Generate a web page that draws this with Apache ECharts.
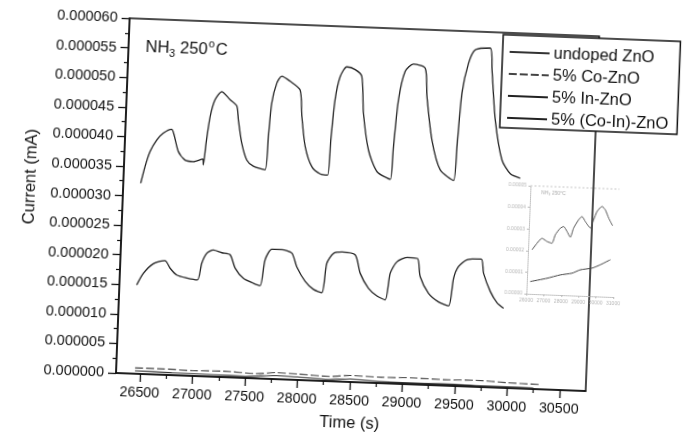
<!DOCTYPE html>
<html><head><meta charset="utf-8">
<script src="https://cdn.jsdelivr.net/npm/echarts@6/dist/echarts.min.js"></script>
<style>
html,body{margin:0;padding:0;background:#fff;overflow:hidden}
#chart{width:688px;height:438px;transform:rotate(2.2deg);transform-origin:116px 373px;}
</style></head><body><div id="chart"></div>
<script>
// ---- data ----
const seriesNames = ['undoped ZnO', '5% Co-ZnO', '5% In-ZnO', '5% (Co-In)-ZnO'];
const xTickValues = [26500, 27000, 27500, 28000, 28500, 29000, 29500, 30000, 30500];
const xMinorTickValues = [26750, 27250, 27750, 28250, 28750, 29250, 29750, 30250];

const undopedTime = [26450, 26800, 27200, 27500, 27800, 28000, 28300, 28500, 28800, 29200, 29500, 29800, 30000, 30250];
const undopedCurrent = [0.5e-6, 0.4e-6, 0.35e-6, 0.3e-6, 0.6e-6, 0.5e-6, 0.3e-6, 0.5e-6, 0.3e-6, 0.25e-6, 0.3e-6, 0.2e-6, 0.2e-6, 0.15e-6];

const coTime = [26450, 26700, 27000, 27300, 27600, 27800, 28000, 28300, 28500, 28800, 29100, 29400, 29700, 30000, 30300];
const coCurrent = [1.0e-6, 1.0e-6, 0.9e-6, 1.0e-6, 0.8e-6, 1.1e-6, 1.0e-6, 0.8e-6, 1.1e-6, 1.0e-6, 1.1e-6, 1.0e-6, 1.1e-6, 0.9e-6, 0.8e-6];

const inTime = [26435, 26494, 26586, 26696, 26747, 26812, 26910, 27011, 27047, 27091, 27153, 27234, 27314, 27366, 27449, 27546, 27611,
  27649, 27709, 27805, 27901, 27953, 28038, 28120, 28201, 28238, 28297, 28377, 28505, 28560, 28643, 28727, 28807,
  28845, 28905, 28999, 29100, 29132, 29217, 29316, 29413, 29451, 29494, 29572, 29707, 29735, 29805, 29873, 29938];
const inCurrent = [15.0e-6, 17.0e-6, 18.7e-6, 19.3e-6, 18.05e-6, 16.95e-6, 16.5e-6, 16.25e-6, 19.1e-6, 20.8e-6, 21.4e-6, 21.0e-6, 20.7e-6, 18.5e-6, 16.8e-6, 16.05e-6, 15.7e-6,
  20.1e-6, 21.9e-6, 21.9e-6, 21.4e-6, 19.1e-6, 16.7e-6, 15.4e-6, 14.9e-6, 19.9e-6, 21.6e-6, 21.9e-6, 21.5e-6, 18.4e-6, 15.95e-6, 14.7e-6, 14.1e-6,
  18.6e-6, 20.6e-6, 21.4e-6, 21.3e-6, 18.25e-6, 15.5e-6, 14.1e-6, 13.5e-6, 18.2e-6, 20.2e-6, 21.4e-6, 21.6e-6, 19.2e-6, 16.2e-6, 14.35e-6, 13.45e-6];

const coInTime = [26436, 26471, 26513, 26573, 26633, 26711, 26736, 26783, 26850, 26930, 27018, 27026, 27044, 27073, 27114, 27175, 27257, 27323,
  27343, 27384, 27438, 27503, 27616, 27635, 27655, 27696, 27741, 27822, 27920, 27947, 27989, 28060, 28142, 28212,
  28231, 28257, 28297, 28357, 28437, 28503, 28532, 28593, 28682, 28811, 28830, 28861, 28914, 28991, 29104, 29131,
  29194, 29284, 29415, 29435, 29463, 29515, 29574, 29716, 29741, 29790, 29868, 29953, 30049];
const coInCurrent = [32.2e-6, 35.05e-6, 37.6e-6, 39.6e-6, 40.8e-6, 41.5e-6, 40.6e-6, 37.8e-6, 36.4e-6, 36.2e-6, 36.7e-6, 35.7e-6, 39.4e-6, 43.9e-6, 46.8e-6, 48.2e-6, 46.9e-6, 45.9e-6,
  43.55e-6, 39.6e-6, 36.8e-6, 35.8e-6, 35.3e-6, 40.9e-6, 46.6e-6, 50.0e-6, 51.2e-6, 50.4e-6, 49.0e-6, 44.5e-6, 39.5e-6, 36.1e-6, 34.95e-6, 34.8e-6,
  40.8e-6, 47.6e-6, 51.5e-6, 53.2e-6, 52.8e-6, 51.7e-6, 45.5e-6, 39.3e-6, 35.7e-6, 34.5e-6, 40.0e-6, 48.0e-6, 52.8e-6, 54.1e-6, 53.5e-6, 48.7e-6,
  41.4e-6, 36.4e-6, 34.7e-6, 40.5e-6, 49.5e-6, 54.6e-6, 56.9e-6, 57.3e-6, 53.6e-6, 45.2e-6, 38.5e-6, 36.2e-6, 35.5e-6];

// inset (faint small graph)
const insetUpperTime = [26230, 26500, 26775, 27075, 27360, 27535, 27805, 27995, 28200, 28400, 28570, 28840, 29030, 29230, 29530, 29700, 29880, 30155, 30350, 30565, 30800];
const insetUpperValue = [20.4, 23.5, 25.9, 24.5, 23.8, 27.8, 30.9, 31.7, 29.5, 26.9, 31.2, 35.1, 36.7, 34.4, 31.5, 35.3, 39.3, 41.7, 40.2, 36.4, 33.0];
const insetLowerTime = [26200, 27150, 27910, 28580, 29045, 29720, 30185, 30750];
const insetLowerValue = [5.7, 7.5, 9.3, 10.3, 12.0, 13.0, 14.7, 17.2];

const zip = (a, b) => a.map((v, i) => [v, b[i]]);
const FONT = '"Liberation Sans", Arial, sans-serif';

const chart = echarts.init(document.getElementById('chart'), null, {renderer: 'canvas'});
const lineBase = {type: 'line', symbol: 'none', smooth: 0.25, xAxisIndex: 0, yAxisIndex: 0, z: 3};

chart.setOption({
  backgroundColor: '#fff',
  animation: false,
  textStyle: {fontFamily: FONT},
  grid: [
    {left: 116, top: 18, width: 470, height: 355, show: true, borderColor: '#111', borderWidth: 1.5, backgroundColor: 'transparent'},
    {left: 523, top: 170, width: 87, height: 108, show: false}
  ],
  legend: {
    orient: 'vertical', left: 490, top: 20,
    padding: [8, 9, 1, 6], itemWidth: 40, itemHeight: 14, itemGap: 4,
    borderColor: '#111', borderWidth: 1.5, backgroundColor: '#fff',
    data: seriesNames,
    itemStyle: {opacity: 0},
    textStyle: {fontSize: 16.5, color: '#111', fontFamily: FONT, lineHeight: 18, padding: [0, 0, 0, -1]},
    z: 10
  },
  xAxis: [
    {type: 'value', gridIndex: 0, min: 26270, max: 30750,
      name: 'Time (s)', nameLocation: 'middle', nameGap: 33,
      nameTextStyle: {fontSize: 16.5, color: '#111', fontFamily: FONT},
      axisLine: {lineStyle: {color: '#111', width: 1.5}},
      axisTick: {show: true, customValues: xTickValues, length: 8, lineStyle: {color: '#111', width: 1.3}},
      axisLabel: {customValues: xTickValues, fontSize: 14.3, color: '#111', margin: 12, fontFamily: FONT, formatter: v => String(v)},
      splitLine: {show: false}},
    {type: 'value', gridIndex: 0, min: 26270, max: 30750, position: 'bottom',
      axisLine: {show: false},
      axisTick: {show: true, customValues: xMinorTickValues, length: 4, lineStyle: {color: '#111', width: 1.2}},
      axisLabel: {show: false}, splitLine: {show: false}},
    {type: 'value', gridIndex: 1, min: 26000, max: 31000, interval: 1000,
      axisLine: {lineStyle: {color: '#bbb', width: 1, type: 'dotted'}},
      axisTick: {length: 2, lineStyle: {color: '#bbb'}},
      axisLabel: {fontSize: 5, color: '#b5b5b5', margin: 4, formatter: v => String(v)},
      splitLine: {show: false}}
  ],
  yAxis: [
    {type: 'value', gridIndex: 0, min: 0, max: 0.00006, interval: 0.000005,
      axisLine: {show: true, lineStyle: {color: '#111', width: 1.5}},
      axisTick: {show: true, length: 8, lineStyle: {color: '#111', width: 1.3}},
      minorTick: {show: true, splitNumber: 2, length: 4, lineStyle: {color: '#111', width: 1.2}},
      axisLabel: {fontSize: 14.5, color: '#111', margin: 12, fontFamily: FONT, formatter: v => v.toFixed(6)},
      splitLine: {show: false}},
    {type: 'value', gridIndex: 1, min: 0, max: 50, interval: 10,
      axisLine: {show: true, lineStyle: {color: '#bbb', width: 1, type: 'dotted'}},
      axisTick: {length: 2, lineStyle: {color: '#bbb'}},
      axisLabel: {fontSize: 5, color: '#b5b5b5', margin: 4, formatter: v => (v * 1e-6).toFixed(5)},
      splitLine: {show: false}}
  ],
  graphic: [
    {type: 'text', left: 133, top: 35, z: 5,
      style: {rich: {
        a: {fontSize: 16.5, fontFamily: FONT, fill: '#111'},
        sub: {fontSize: 11, fontFamily: FONT, fill: '#111', verticalAlign: 'bottom', padding: [9, 0, 0, 0]},
        sup: {fontSize: 11, fontFamily: FONT, fill: '#111', verticalAlign: 'top', padding: [0, 1, 11, 1]}
      }, text: '{a|NH}{sub|3}{a| 250}{sup|o}{a|C}'}},
    {type: 'text', x: 23, y: 180, rotation: Math.PI / 2, z: 5,
      style: {text: 'Current (mA)', fontSize: 16.5, fontFamily: FONT, fill: '#111', align: 'center', verticalAlign: 'middle'}},
    {type: 'text', left: 534, top: 174, z: 5,
      style: {text: 'NH\u2083 250\u00b0C', fontSize: 5, fontFamily: FONT, fill: '#aaa'}},
    {type: 'line', shape: {x1: 523, y1: 170, x2: 612, y2: 170}, z: 2,
      style: {stroke: '#c8c8c8', lineWidth: 1, lineDash: [2, 2]}}
  ],
  series: [
    Object.assign({}, lineBase, {name: seriesNames[0], data: zip(undopedTime, undopedCurrent), lineStyle: {color: '#333', width: 1.1}, itemStyle: {color: '#333'}}),
    Object.assign({}, lineBase, {name: seriesNames[1], data: zip(coTime, coCurrent), lineStyle: {color: '#444', width: 1.1, type: [8, 3]}, itemStyle: {color: '#444'}}),
    Object.assign({}, lineBase, {name: seriesNames[2], data: zip(inTime, inCurrent), lineStyle: {color: '#222', width: 1.3}, itemStyle: {color: '#222'}}),
    Object.assign({}, lineBase, {name: seriesNames[3], data: zip(coInTime, coInCurrent), lineStyle: {color: '#222', width: 1.3}, itemStyle: {color: '#222'}}),
    {type: 'line', symbol: 'none', xAxisIndex: 2, yAxisIndex: 1, smooth: 0.2, data: zip(insetUpperTime, insetUpperValue), lineStyle: {color: '#555', width: 1}, z: 2},
    {type: 'line', symbol: 'none', xAxisIndex: 2, yAxisIndex: 1, smooth: 0.2, data: zip(insetLowerTime, insetLowerValue), lineStyle: {color: '#444', width: 1}, z: 2}
  ]
});
</script></body></html>
